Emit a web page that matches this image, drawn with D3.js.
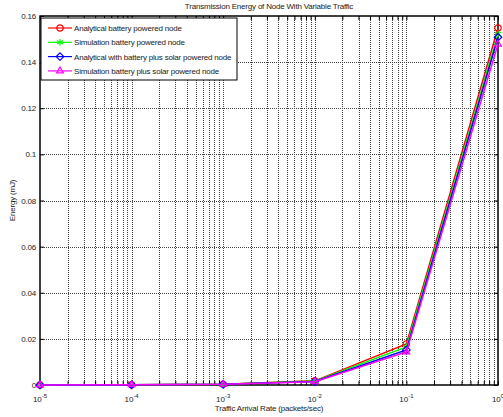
<!DOCTYPE html>
<html>
<head>
<meta charset="utf-8">
<script src="https://cdn.jsdelivr.net/npm/d3@7"></script>
<style>
body { margin: 0; background: #fff; }
svg { font-family: "Liberation Sans", Arial, sans-serif; display: block; }
</style>
</head>
<body>
<script>
// data
const rates = [1e-5, 1e-4, 1e-3, 1e-2, 1e-1, 1]
const analyticalBattery = [0.00002, 0.0001, 0.0003, 0.0018, 0.0178, 0.1548]
const simulationBattery = [0.00002, 0.0001, 0.0003, 0.0017, 0.0165, 0.1522]
const analyticalSolar = [0.00002, 0.0001, 0.0003, 0.0015, 0.0152, 0.1508]
const simulationSolar = [0.00002, 0.0001, 0.0003, 0.0014, 0.0143, 0.1478]
const seriesNames = [
    'Analytical battery powered node',
    'Simulation battery powered node',
    'Analytical with battery plus solar powered node',
    'Simulation battery plus solar powered node'
]
const yTicks = [0, 0.02, 0.04, 0.06, 0.08, 0.1, 0.12, 0.14, 0.16]
const xExponents = [-5, -4, -3, -2, -1, 0]

const series = [
    { name: seriesNames[0], values: analyticalBattery, color: '#ff0000', marker: 'circle' },
    { name: seriesNames[1], values: simulationBattery, color: '#00ff00', marker: 'star' },
    { name: seriesNames[2], values: analyticalSolar, color: '#0000ff', marker: 'diamond' },
    { name: seriesNames[3], values: simulationSolar, color: '#ff00ff', marker: 'triangle' }
]

const w = 503
const h = 417
const pLeft = 40, pRight = 498, pTop = 16, pBottom = 385

const svg = d3.select('body')
    .append('svg')
    .attr('width', w)
    .attr('height', h)

const x = d3.scaleLog().domain([1e-5, 1]).range([pLeft, pRight])
const y = d3.scaleLinear().domain([0, 0.16]).range([pBottom, pTop])

// minor positions for log grid
const minor = []
for (let e = -5; e < 0; e++) {
    for (let k = 2; k <= 9; k++) minor.push(k * Math.pow(10, e))
}
const majors = xExponents.map(e => Math.pow(10, e))

// grid
const grid = svg.append('g')
grid.selectAll('.vgrid')
    .data(minor.concat(majors.slice(1, -1)))
    .enter()
    .append('line')
    .attr('x1', d => Math.round(x(d)) + 0.5)
    .attr('x2', d => Math.round(x(d)) + 0.5)
    .attr('y1', pTop)
    .attr('y2', pBottom)
    .attr('stroke', '#444')
    .attr('stroke-dasharray', '1,1')
    .attr('stroke-width', 1)
grid.selectAll('.hgrid')
    .data(yTicks.slice(1, -1))
    .enter()
    .append('line')
    .attr('x1', pLeft)
    .attr('x2', pRight)
    .attr('y1', d => Math.round(y(d)) + 0.5)
    .attr('y2', d => Math.round(y(d)) + 0.5)
    .attr('stroke', '#444')
    .attr('stroke-dasharray', '1,1')
    .attr('stroke-width', 1)

// axes with inward ticks
const leftAxis = d3.axisLeft(y).tickValues(yTicks).tickSize(-4).tickPadding(4)
    .tickFormat(d => d3.format('')(+d.toFixed(2)))
svg.append('g')
    .attr('transform', `translate(${pLeft},0)`)
    .call(leftAxis)
    .call(g => g.select('.domain').remove())
    .call(g => g.selectAll('text').style('font-size', '8px').style('letter-spacing', '-0.2px').attr('fill', '#222'))

svg.append('g')
    .attr('transform', `translate(${pRight},0)`)
    .call(d3.axisRight(y).tickValues(yTicks).tickSize(-4).tickFormat(''))
    .call(g => g.select('.domain').remove())

svg.append('g')
    .attr('transform', `translate(0,${pBottom})`)
    .call(d3.axisBottom(x).tickValues(minor.concat(majors)).tickSize(-4).tickFormat(''))
    .call(g => g.select('.domain').remove())

svg.append('g')
    .attr('transform', `translate(0,${pTop})`)
    .call(d3.axisTop(x).tickValues(minor.concat(majors)).tickSize(-4).tickFormat(''))
    .call(g => g.select('.domain').remove())

// x tick labels 10^n
const xl = svg.append('g')
    .selectAll('text')
    .data(xExponents)
    .enter()
    .append('text')
    .attr('x', d => x(Math.pow(10, d)))
    .attr('y', pBottom + 17)
    .attr('text-anchor', 'middle')
    .style('font-size', '8px')
    .attr('fill', '#222')
xl.append('tspan').text('10')
xl.append('tspan').attr('dy', -4).style('font-size', '6px').text(d => d)

// frame
svg.append('rect')
    .attr('x', pLeft)
    .attr('y', pTop)
    .attr('width', pRight - pLeft)
    .attr('height', pBottom - pTop)
    .attr('fill', 'none')
    .attr('stroke', '#000')
    .attr('stroke-width', 1.5)

// lines
const line = d3.line()
    .x((d, i) => x(rates[i]))
    .y(d => y(d))

const symbols = {
    circle: d3.symbol().type(d3.symbolCircle).size(32),
    star: d3.symbol().type(d3.symbolAsterisk).size(32),
    diamond: d3.symbol().type(d3.symbolDiamond2).size(36),
    triangle: d3.symbol().type(d3.symbolTriangle2).size(32)
}

const plot = svg.append('g')
series.forEach(s => {
    plot.append('path')
        .datum(s.values)
        .attr('d', line)
        .attr('fill', 'none')
        .attr('stroke', s.color)
        .attr('stroke-width', 1.5)
    plot.selectAll(null)
        .data(s.values)
        .enter()
        .append('path')
        .attr('d', symbols[s.marker]())
        .attr('transform', (d, i) => `translate(${x(rates[i])},${y(d)})`)
        .attr('fill', 'none')
        .attr('stroke', s.color)
        .attr('stroke-width', 1.2)
})

// legend
const lg = svg.append('g').attr('transform', 'translate(41,18)')
lg.append('rect')
    .attr('width', 196)
    .attr('height', 62)
    .attr('fill', '#fff')
    .attr('stroke', '#000')
    .attr('stroke-width', 1)
const items = lg.selectAll('.item')
    .data(series)
    .enter()
    .append('g')
    .attr('transform', (d, i) => `translate(0,${10 + i * 14.3})`)
items.append('line')
    .attr('x1', 7).attr('x2', 31)
    .attr('stroke', d => d.color)
    .attr('stroke-width', 1.2)
items.append('path')
    .attr('d', d => symbols[d.marker]())
    .attr('transform', 'translate(19,0)')
    .attr('fill', 'none')
    .attr('stroke', d => d.color)
    .attr('stroke-width', 1.2)
items.append('text')
    .attr('x', 33)
    .attr('y', 3)
    .style('font-size', '8px')
    .style('letter-spacing', '-0.2px')
    .attr('fill', '#222')
    .text(d => d.name)

// titles
svg.append('text')
    .attr('x', (pLeft + pRight) / 2)
    .attr('y', 9)
    .attr('text-anchor', 'middle')
    .style('font-size', '8px')
    .style('letter-spacing', '-0.2px')
    .attr('fill', '#222')
    .text('Transmission Energy of Node With Variable Traffic')

svg.append('text')
    .attr('x', (pLeft + pRight) / 2)
    .attr('y', 411)
    .attr('text-anchor', 'middle')
    .style('font-size', '8px')
    .style('letter-spacing', '-0.2px')
    .attr('fill', '#222')
    .text('Traffic Arrival Rate (packets/sec)')

svg.append('text')
    .attr('transform', `translate(15,${(pTop + pBottom) / 2}) rotate(-90)`)
    .attr('text-anchor', 'middle')
    .style('font-size', '8px')
    .style('letter-spacing', '-0.2px')
    .attr('fill', '#222')
    .text('Energy (mJ)')
</script>
</body>
</html>
